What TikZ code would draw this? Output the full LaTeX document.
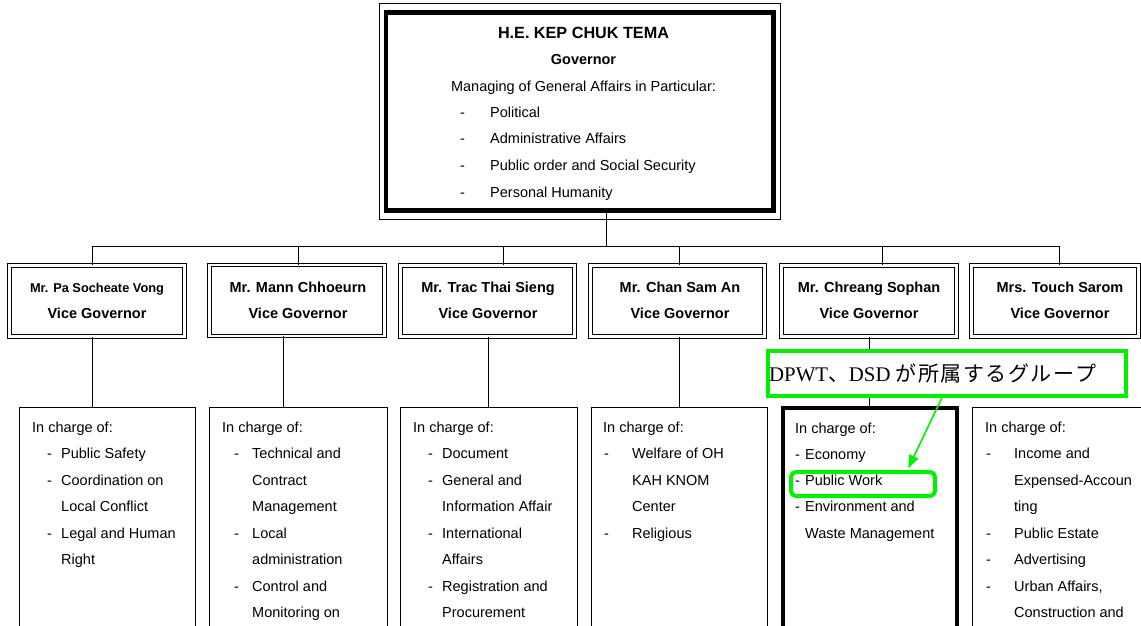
\documentclass[tikz,border=0pt]{standalone}
\usepackage{fontspec}
\usepackage{graphicx}
\setmainfont{Liberation Sans}
\newfontfamily\lserif{Liberation Serif}
\newfontfamily\cjk{Noto Sans CJK JP}
\usetikzlibrary{arrows.meta,calc}
\definecolor{hlgreen}{RGB}{0,240,0}
\newcommand\dsh[1]{\makebox[#1pt][l]{-}}
\newcommand\jc[1]{\makebox[22.5pt][l]{#1}}
\tikzset{
  thinline/.style={draw=black,line width=0.9pt},
  govbox/.style={draw=black,line width=4.5pt,rectangle,inner sep=0pt},
  vbox/.style={draw=black,double=white,double distance=2.6pt,line width=0.9pt,rectangle,inner sep=0pt},
  cbox/.style={draw=black,line width=0.9pt,rectangle,inner sep=0pt},
  hbox/.style={draw=black,line width=4pt,rectangle,inner sep=0pt},
  txt/.style={inner sep=0pt,font=\fontsize{14.5}{17}\selectfont},
  btxt/.style={inner sep=0pt,font=\bfseries\fontsize{14.5}{17}\selectfont},
  conn/.style={draw=black,line width=0.9pt},
}
\begin{document}
\begin{tikzpicture}[x=1pt,y=-1pt]
\useasboundingbox (0,0) rectangle (1141,626);
\clip (0,0) rectangle (1141,626);

% Governor box
\node[govbox,minimum width=387.5pt,minimum height=198pt] (gov) at (579.75,111.5) {};
\draw[thinline] ([xshift=-4pt,yshift=6.5pt]gov.north west) rectangle ([xshift=4.5pt,yshift=-6.5pt]gov.south east);
\node[btxt,anchor=base,font=\bfseries\fontsize{16.2}{19}\selectfont] (gname) at (583.5,38.3) {H.E. KEP CHUK TEMA};
\node[btxt,anchor=base] (grole) at (583.5,65) {Governor};
\node[txt,anchor=base] (gman) at (583.5,91.7) {Managing of General Affairs in Particular:};
\foreach \tt [count=\i from 0] in {Political,Administrative Affairs,Public order and Social Security,Personal Humanity}
  \node[txt,anchor=base west] (gl-\i) at (460,{117.3+26.6*\i}) {\dsh{30}\tt};

% Vice governor boxes
\node[vbox,minimum width=175pt,minimum height=71pt] (v1) at (97,301) {};
\node[vbox,minimum width=175pt,minimum height=71pt] (v2) at (297,300.5) {};
\node[vbox,minimum width=174pt,minimum height=71pt] (v3) at (487.5,301) {};
\node[vbox,minimum width=174pt,minimum height=71pt] (v4) at (677.5,301) {};
\node[vbox,minimum width=175pt,minimum height=71pt] (v5) at (869,301) {};
\node[vbox,minimum width=167pt,minimum height=71pt] (v6) at (1055,301) {};

\node[btxt,anchor=base,font=\bfseries\fontsize{12.8}{15}\selectfont] (v1n) at (97,292.5) {Mr. Pa Socheate Vong};
\node[btxt,anchor=base] (v2n) at (298,292) {Mr. Mann Chhoeurn};
\node[btxt,anchor=base] (v3n) at (488,292) {Mr. Trac Thai Sieng};
\node[btxt,anchor=base] (v4n) at (680,292) {Mr. Chan Sam An};
\node[btxt,anchor=base] (v5n) at (869,292) {Mr. Chreang Sophan};
\node[btxt,anchor=base] (v6n) at (1060,292) {Mrs. Touch Sarom};
\node[btxt,anchor=base] (v1r) at (97,318.7) {Vice Governor};
\node[btxt,anchor=base] (v2r) at (298,318.7) {Vice Governor};
\node[btxt,anchor=base] (v3r) at (488,318.7) {Vice Governor};
\node[btxt,anchor=base] (v4r) at (680,318.7) {Vice Governor};
\node[btxt,anchor=base] (v5r) at (869,318.7) {Vice Governor};
\node[btxt,anchor=base] (v6r) at (1060,318.7) {Vice Governor};

% Bottom boxes
\node[cbox,minimum width=176pt,minimum height=253pt] (b1) at (107,533.5) {};
\node[cbox,minimum width=178pt,minimum height=253pt] (b2) at (298,533.5) {};
\node[cbox,minimum width=177pt,minimum height=253pt] (b3) at (488.5,533.5) {};
\node[cbox,minimum width=176pt,minimum height=253pt] (b4) at (679,533.5) {};
\node[hbox,minimum width=174pt,minimum height=252.5pt] (b5) at (870,533.75) {};
\node[cbox,minimum width=188pt,minimum height=253pt] (b6) at (1066,533.5) {};

% connectors
\coordinate (g0) at (606,246);
\coordinate (t1) at (92,246);
\coordinate (t2) at (298,246);
\coordinate (t3) at (503,246);
\coordinate (t4) at (679,246);
\coordinate (t5) at (882,246);
\coordinate (t6) at (1059,246);
\draw[conn] (g0 |- gov.south) -- (g0);
\draw[conn] (t1) -- (t6);
\foreach \k in {1,...,6} \draw[conn] (t\k) -- (t\k |- v\k.north);
\coordinate (c1) at (92,340);
\coordinate (c2) at (283,340);
\coordinate (c3) at (488,340);
\coordinate (c4) at (679,340);
\coordinate (c5) at (869,340);
\foreach \k in {1,...,5} \draw[conn] (c\k |- v\k.south) -- (c\k |- b\k.north);

% bottom box texts
\foreach \xx/\tt [count=\i from 0] in {32/{In charge of:},47/{\dsh{14}Public Safety},47/{\dsh{14}Coordination on},61/{Local Conflict},47/{\dsh{14}Legal and Human},61/{Right}}
  \node[txt,anchor=base west] (b1-\i) at (\xx,{432+26.5*\i}) {\tt};
\foreach \xx/\tt [count=\i from 0] in {222/{In charge of:},234/{\dsh{18}Technical and},252/{Contract},252/{Management},234/{\dsh{18}Local},252/{administration},234/{\dsh{18}Control and},252/{Monitoring on}}
  \node[txt,anchor=base west] (b2-\i) at (\xx,{432+26.5*\i}) {\tt};
\foreach \xx/\tt [count=\i from 0] in {413/{In charge of:},428/{\dsh{14}Document},428/{\dsh{14}General and},442/{Information Affair},428/{\dsh{14}International},442/{Affairs},428/{\dsh{14}Registration and},442/{Procurement}}
  \node[txt,anchor=base west] (b3-\i) at (\xx,{432+26.5*\i}) {\tt};
\foreach \xx/\tt [count=\i from 0] in {603/{In charge of:},604/{\dsh{28}Welfare of OH},632/{KAH KNOM},632/{Center},604/{\dsh{28}Religious}}
  \node[txt,anchor=base west] (b4-\i) at (\xx,{432+26.5*\i}) {\tt};
\foreach \xx/\tt [count=\i from 0] in {795/{In charge of:},795/{\dsh{10}Economy},795/{\dsh{10}Public Work},795/{\dsh{10}Environment and},805/{Waste Management}}
  \node[txt,anchor=base west] (b5-\i) at (\xx,{433+26.3*\i}) {\tt};
\foreach \xx/\tt [count=\i from 0] in {985/{In charge of:},986/{\dsh{28}Income and},1014/{Expensed-Accoun},1014/{ting},986/{\dsh{28}Public Estate},986/{\dsh{28}Advertising},986/{\dsh{28}Urban Affairs,},1014/{Construction and}}
  \node[txt,anchor=base west] (b6-\i) at (\xx,{432+26.5*\i}) {\tt};

% green callout
\node[draw=hlgreen,fill=white,line width=3.5pt,rectangle,inner sep=0pt,minimum width=358pt,minimum height=45pt] (gbox) at (947,373.5) {};
\node[inner sep=0pt,anchor=base west,font=\lserif\fontsize{20.8}{24}\selectfont] (glabel) at (769,381.7)
  {DPWT{\cjk 、}DSD {\cjk\fontsize{21}{24}\selectfont\jc{が}\jc{所}\jc{属}\jc{す}\jc{る}\jc{グ}\jc{ル}\jc{ー}\makebox[21pt][l]{プ}}};
\node[draw=hlgreen,line width=4pt,rectangle,rounded corners=5pt,inner sep=0pt,minimum width=144pt,minimum height=24pt] (pw) at (863,484) {};
\draw[hlgreen,line width=1.6pt,-{Triangle[length=13pt,width=10pt]},shorten >=2pt]
  ($(gbox.south west)!0.486!(gbox.south east)$) -- ($(pw.north west)!0.8!(pw.north east)$);
\end{tikzpicture}
\end{document}
